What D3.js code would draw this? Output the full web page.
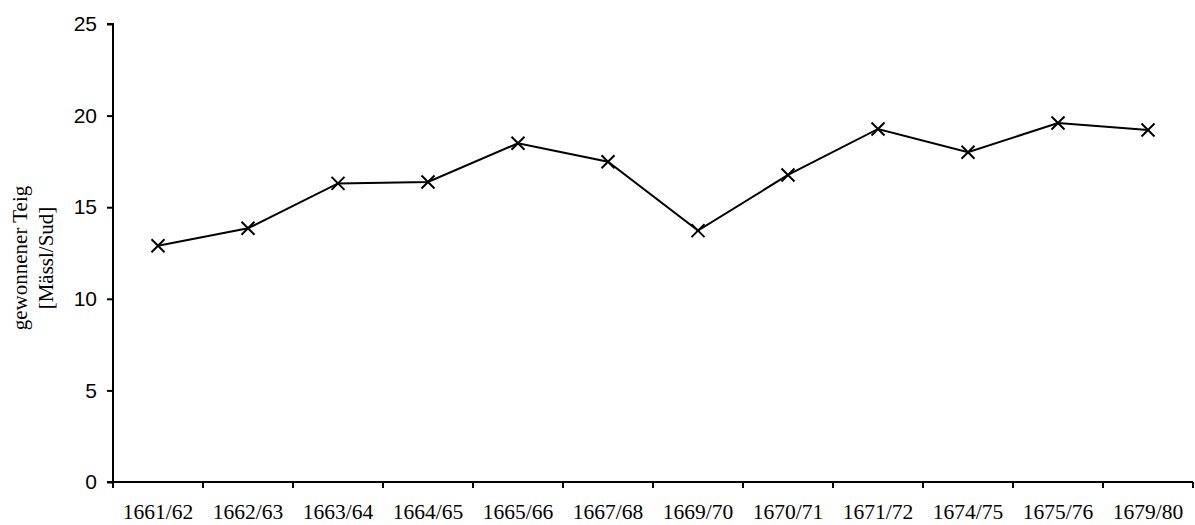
<!DOCTYPE html>
<html><head><meta charset="utf-8">
<script src="https://cdn.jsdelivr.net/npm/d3@7"></script>
<style>body{margin:0;background:#fff}svg{display:block}</style>
</head><body>
<svg id="c" width="1195" height="525"></svg>
<script>
const categories = ["1661/62","1662/63","1663/64","1664/65","1665/66","1667/68","1669/70","1670/71","1671/72","1674/75","1675/76","1679/80"];
const values = [12.9, 13.85, 16.3, 16.38, 18.49, 17.48, 13.72, 16.76, 19.27, 18.0, 19.6, 19.21];
const yTicks = [0, 5, 10, 15, 20, 25];
const yLabelLines = ["gewonnener Teig", "[Mässl/Sud]"];

const svg = d3.select("#c");
const x0 = 113, x1 = 1193, yTop = 24, yBot = 482;
const x = d3.scaleBand().domain(categories).range([x0, x1]);
const y = d3.scaleLinear().domain([0, 25]).range([yBot, yTop]);

const yAxis = svg.append("g").attr("transform", `translate(${x0},0)`)
  .call(d3.axisLeft(y).tickValues(yTicks).tickSize(6).tickPadding(10).tickFormat(d3.format("d")));
yAxis.select(".domain").attr("stroke", "#000").attr("stroke-width", 2).attr("d", `M-6,${yBot}H0V${yTop}H-6`);
yAxis.selectAll(".tick line").attr("stroke", "#000").attr("stroke-width", 2);
yAxis.selectAll("text").attr("font-family", "Liberation Sans, Arial, sans-serif").attr("font-size", 21).attr("fill", "#000");

const xAxis = svg.append("g").attr("transform", `translate(0,${yBot})`)
  .call(d3.axisBottom(x).tickSize(0).tickPadding(22));
xAxis.select(".domain").attr("stroke", "#000").attr("stroke-width", 2).attr("d", `M${x0},0H${x1}`);
xAxis.selectAll("text").attr("font-family", "Liberation Serif, Times New Roman, serif").attr("font-size", 21.5).attr("fill", "#000");
// tick marks at band boundaries
const bounds = categories.map(c => x(c)).concat([x1]);
svg.append("g").selectAll("line").data(bounds).join("line")
  .attr("x1", d => d).attr("x2", d => d).attr("y1", yBot).attr("y2", yBot + 6)
  .attr("stroke", "#000").attr("stroke-width", 2);

const cx = d => x(d.c) + x.bandwidth() / 2;
const data = categories.map((c, i) => ({c, v: values[i]}));
svg.append("path").datum(data)
  .attr("d", d3.line().x(cx).y(d => y(d.v)))
  .attr("fill", "none").attr("stroke", "#000").attr("stroke-width", 2);

const s = 6.5;
svg.append("g").selectAll("path").data(data).join("path")
  .attr("d", d => { const px = cx(d), py = y(d.v); return `M${px-s},${py-s}L${px+s},${py+s}M${px-s},${py+s}L${px+s},${py-s}`; })
  .attr("stroke", "#000").attr("stroke-width", 2);

const lbl = svg.append("text").attr("transform", `translate(20,258) rotate(-90)`)
  .attr("text-anchor", "middle").attr("font-family", "Liberation Serif, Times New Roman, serif").attr("font-size", 21).attr("fill", "#000");
lbl.selectAll("tspan").data(yLabelLines).join("tspan")
  .attr("x", 0).attr("dy", (d, i) => i === 0 ? "0.35em" : 26).text(d => d);
</script>
</body></html>
